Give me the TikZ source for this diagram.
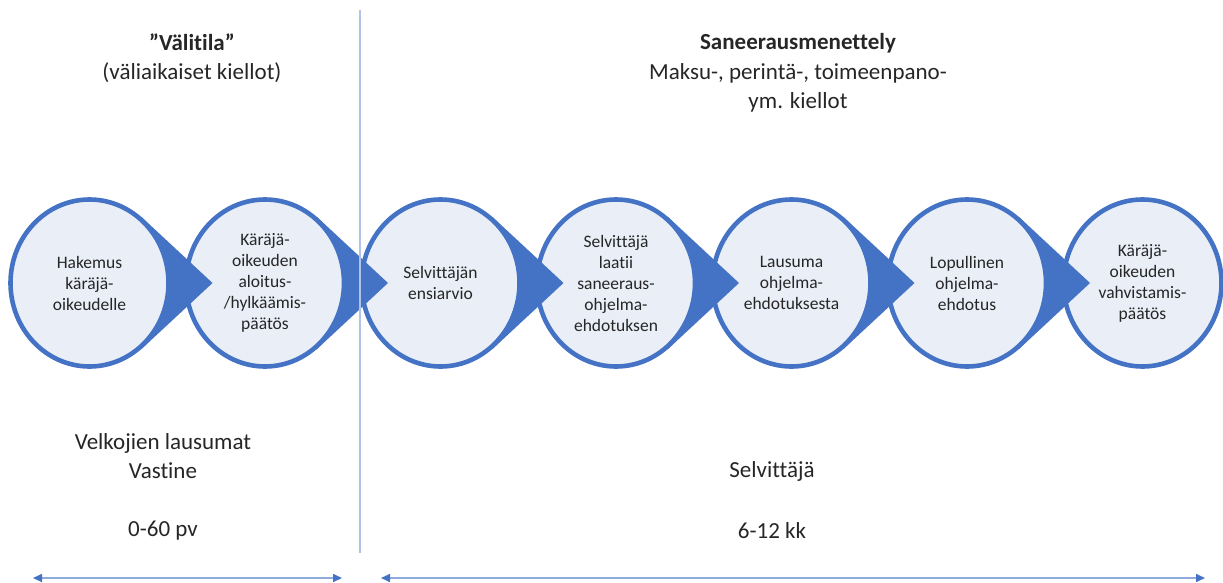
\documentclass[tikz,border=0pt]{standalone}
\usepackage{fontspec}
\setmainfont{Carlito}[Ligatures=NoCommon]
\usetikzlibrary{calc,arrows.meta,shapes.geometric}
\definecolor{stageblue}{RGB}{68,114,196}
\definecolor{stagefill}{RGB}{233,238,247}
\definecolor{splitblue}{RGB}{176,196,231}
\definecolor{spanblue}{RGB}{143,170,220}
\definecolor{txtgray}{RGB}{38,38,38}
\tikzset{
	stage/.style={ellipse, draw=stageblue, line width=4.6pt, fill=stagefill,
		minimum width=158pt, minimum height=167pt, inner sep=0pt, align=center,
		text=txtgray, font=\fontsize{17.5}{21}\selectfont},
	stagetip/.style={fill=stageblue},
	head/.style={align=center, text=txtgray, font=\fontsize{23}{29.5}\selectfont},
	span/.style={draw=spanblue, line width=1.6pt,
		{Triangle[length=9pt,width=8pt,color=stageblue]}-{Triangle[length=9pt,width=8pt,color=stageblue]}},
}

\begin{document}
\begin{tikzpicture}[x=1pt,y=-1pt]
			%%%%% START %%%%%
			\useasboundingbox (0,0) rectangle (1223,583);
			
			% right to left, so each tip lies on the next stage
			\foreach \i/\txt in {7/{Käräjä-\\oikeuden\\vahvistamis-\\päätös},
				6/{Lopullinen\\ohjelma-\\ehdotus},
				5/{Lausuma\\ohjelma-\\ehdotuksesta},
				4/{Selvittäjä\\laatii\\saneeraus-\\ohjelma-\\ehdotuksen},
				3/{Selvittäjän\\ensiarvio},
				2/{Käräjä-\\oikeuden\\aloitus-\\/hylkäämis-\\päätös},
				1/{Hakemus\\käräjä-\\oikeudelle}} {
				\coordinate (c\i) at ({89.5+175.5*(\i-1)},283);
				\ifnum\i<7
				\fill[stagetip] ($(c\i)+(52,-66)$) -- ($(c\i)+(123,0)$) -- ($(c\i)+(52,66)$) -- cycle;
				\fi
				\node[stage] (s\i) at (c\i) {\txt};
			}
			
			\draw[draw=splitblue, line width=1.4pt] (360,10) -- (360,553);
			
			\node[head] (vali) at (192,58) {\textbf{”Välitila”}\\(väliaikaiset kiellot)};
			\node[head] (sanee) at (798,73) {\textbf{Saneerausmenettely}\\Maksu-, perintä-, toimeenpano-\\ym. kiellot};
			
			\node[head] (velk) at (163,456) {Velkojien lausumat\\Vastine};
			\node[head] (vpv) at (163,531) {0-60 pv};
			\node[head] (selv) at (772,471) {Selvittäjä};
			\node[head] (kk) at (772,531) {6-12 kk};
			
			\draw[span] (33,578) -- (342,578);
			\draw[span] (381,578) -- (1205,578);
			
			%%%%% END %%%%%
\end{tikzpicture}
\end{document}
